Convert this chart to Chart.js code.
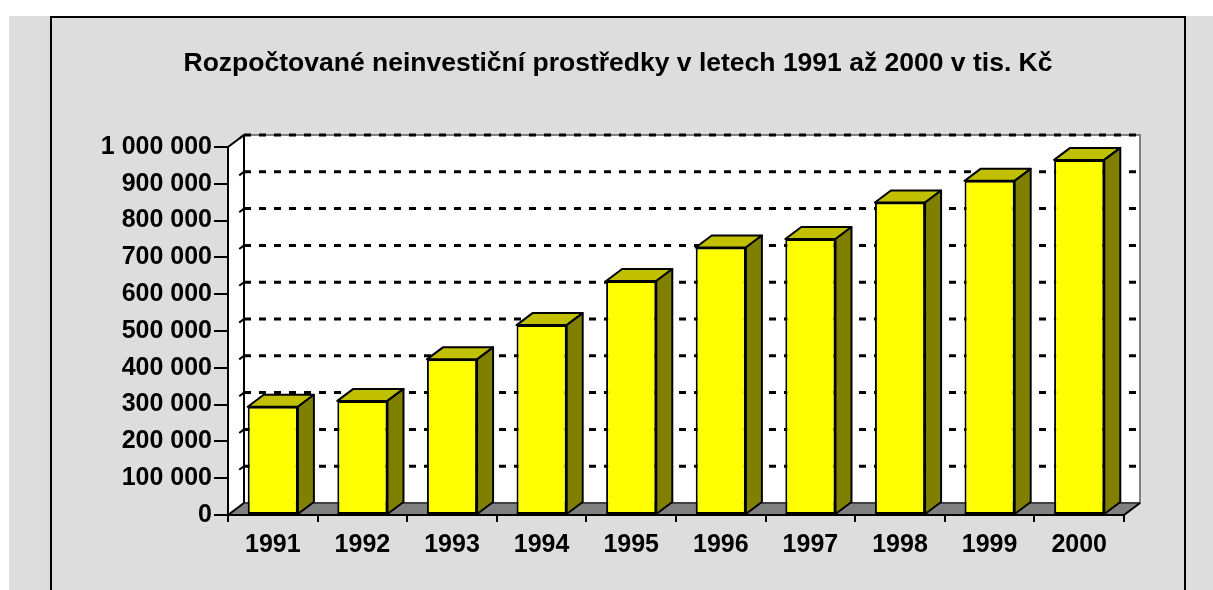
<!DOCTYPE html>
<html>
<head>
<meta charset="utf-8">
<script src="https://cdn.jsdelivr.net/npm/chart.js@4/dist/chart.umd.min.js"></script>
<style>
  body { margin: 0; background: #fff; width: 1213px; height: 590px; overflow: hidden; position: relative; }
  #bg { position: absolute; left: 9px; top: 16px; right: 0; bottom: 0; background: #dddddd; }
  #box { position: absolute; left: 50px; top: 16px; width: 1132px; height: 600px; border: 2px solid #000; }
  canvas { position: absolute; left: 0; top: 0; }
</style>
</head>
<body>
<div id="bg"></div>
<div id="box"><canvas id="chart" width="1132" height="572"></canvas></div>
<script>
const title = "Rozpočtované neinvestiční prostředky v letech 1991 až 2000 v tis. Kč";
const years = ["1991", "1992", "1993", "1994", "1995", "1996", "1997", "1998", "1999", "2000"];
const budget = [294000, 310000, 423000, 516000, 636000, 727000, 750000, 849000, 908000, 965000];
const yMax = 1000000;
const yStep = 100000;

// depth of the fake 3d
const DX = 16, DY = -12;
const FONT = "'Liberation Sans', Arial, sans-serif";

const fmt = (v) => String(v).replace(/\B(?=(\d{3})+(?!\d))/g, " ");

function poly(ctx, pts, fill) {
   ctx.beginPath();
   ctx.moveTo(pts[0][0], pts[0][1]);
   for (let i = 1; i < pts.length; i++) ctx.lineTo(pts[i][0], pts[i][1]);
   ctx.closePath();
   if (fill) {
      ctx.fillStyle = fill;
      ctx.fill();
   }
}

const walls = {
   id: "walls",
   beforeDraw(chart) {
      const ctx = chart.ctx;
      const a = chart.chartArea;
      const ys = chart.scales.y;
      ctx.save();
      // title, centred in the whole box (chart area is not centred)
      ctx.font = "bold 26.5px " + FONT;
      ctx.fillStyle = "#000";
      ctx.textAlign = "center";
      ctx.textBaseline = "middle";
      ctx.fillText(title, chart.width / 2, 46);

      // left side wall
      poly(ctx, [[a.left, a.top], [a.left + DX, a.top + DY], [a.left + DX, a.bottom + DY], [a.left, a.bottom]], "#fff");
      // back wall
      ctx.fillStyle = "#fff";
      ctx.fillRect(a.left + DX, a.top + DY, a.right - a.left, a.bottom - a.top);
      ctx.strokeStyle = "#808080";
      ctx.lineWidth = 2;
      ctx.strokeRect(a.left + DX, a.top + DY, a.right - a.left, a.bottom - a.top);
      // floor
      poly(ctx, [[a.left, a.bottom], [a.left + DX, a.bottom + DY], [a.right + DX, a.bottom + DY], [a.right, a.bottom]], "#808080");
      ctx.strokeStyle = "#000";
      ctx.lineWidth = 1;
      ctx.stroke();

      // dashed gridlines on back wall
      ctx.strokeStyle = "#000";
      ctx.lineWidth = 3;
      ys.ticks.forEach((t) => {
         if (t.value === 0) return;
         const py = ys.getPixelForValue(t.value) + DY;
         ctx.setLineDash([7, 8]);
         ctx.beginPath();
         ctx.moveTo(a.left + DX, py);
         ctx.lineTo(a.right + DX, py);
         ctx.stroke();
         // little bit of it on the side wall
         ctx.setLineDash([6, 40]);
         ctx.lineWidth = 2;
         ctx.beginPath();
         ctx.moveTo(a.left + DX, py);
         ctx.lineTo(a.left, py - DY);
         ctx.stroke();
         ctx.lineWidth = 3;
      });
      ctx.setLineDash([]);

      // edges
      ctx.lineWidth = 2;
      ctx.beginPath();
      ctx.moveTo(a.left, a.top);
      ctx.lineTo(a.left + DX, a.top + DY);
      ctx.moveTo(a.left + DX, a.top + DY);
      ctx.lineTo(a.left + DX, a.bottom + DY);
      ctx.moveTo(a.left, a.bottom);
      ctx.lineTo(a.left + DX, a.bottom + DY);
      ctx.moveTo(a.right, a.bottom);
      ctx.lineTo(a.right + DX, a.bottom + DY);
      ctx.stroke();
      ctx.restore();
   },
   afterDatasetsDraw(chart) {
      const ctx = chart.ctx;
      ctx.save();
      ctx.strokeStyle = "#000";
      ctx.lineWidth = 2;
      ctx.lineJoin = "round";
      chart.getDatasetMeta(0).data.forEach((bar) => {
         const { x, y, base, width } = bar.getProps(["x", "y", "base", "width"], true);
         const l = x - width / 2, r = x + width / 2;
         poly(ctx, [[l, y], [l + DX, y + DY], [r + DX, y + DY], [r, y]], "#c0c000");
         ctx.stroke();
         poly(ctx, [[r, y], [r + DX, y + DY], [r + DX, base + DY], [r, base]], "#808000");
         ctx.stroke();
      });
      ctx.restore();
   },
};

Chart.defaults.font.family = FONT;
Chart.defaults.color = "#000";

new Chart(document.getElementById("chart"), {
   type: "bar",
   data: {
      labels: years,
      datasets: [
         {
            label: "Rozpočet",
            data: budget,
            backgroundColor: "#ffff00",
            borderColor: "#000",
            borderWidth: 2,
            borderSkipped: false,
            barPercentage: 0.56,
            categoryPercentage: 1,
         },
      ],
   },
   options: {
      responsive: false,
      animation: false,
      layout: { padding: { left: 0, right: 60, top: 129, bottom: 0 } },
      plugins: {
         legend: { display: false },
         tooltip: { enabled: false },
         title: { display: false },
      },
      scales: {
         x: {
            offset: true,
            grid: { offset: true, drawOnChartArea: false, tickLength: 7, color: "#000", lineWidth: 2 },
            border: { color: "#000", width: 2 },
            ticks: { font: { size: 25, weight: "bold" }, color: "#000", padding: 8, maxRotation: 0 },
            afterFit(s) { s.height = 75; },
         },
         y: {
            min: 0,
            max: yMax,
            grid: { drawOnChartArea: false, tickLength: 14, color: "#000", lineWidth: 2 },
            border: { color: "#000", width: 2 },
            ticks: { stepSize: yStep, font: { size: 25, weight: "bold" }, color: "#000", padding: 2, callback: (v) => fmt(v) },
            afterFit(s) { s.width = 176; },
         },
      },
   },
   plugins: [walls],
});
</script>
</body>
</html>
